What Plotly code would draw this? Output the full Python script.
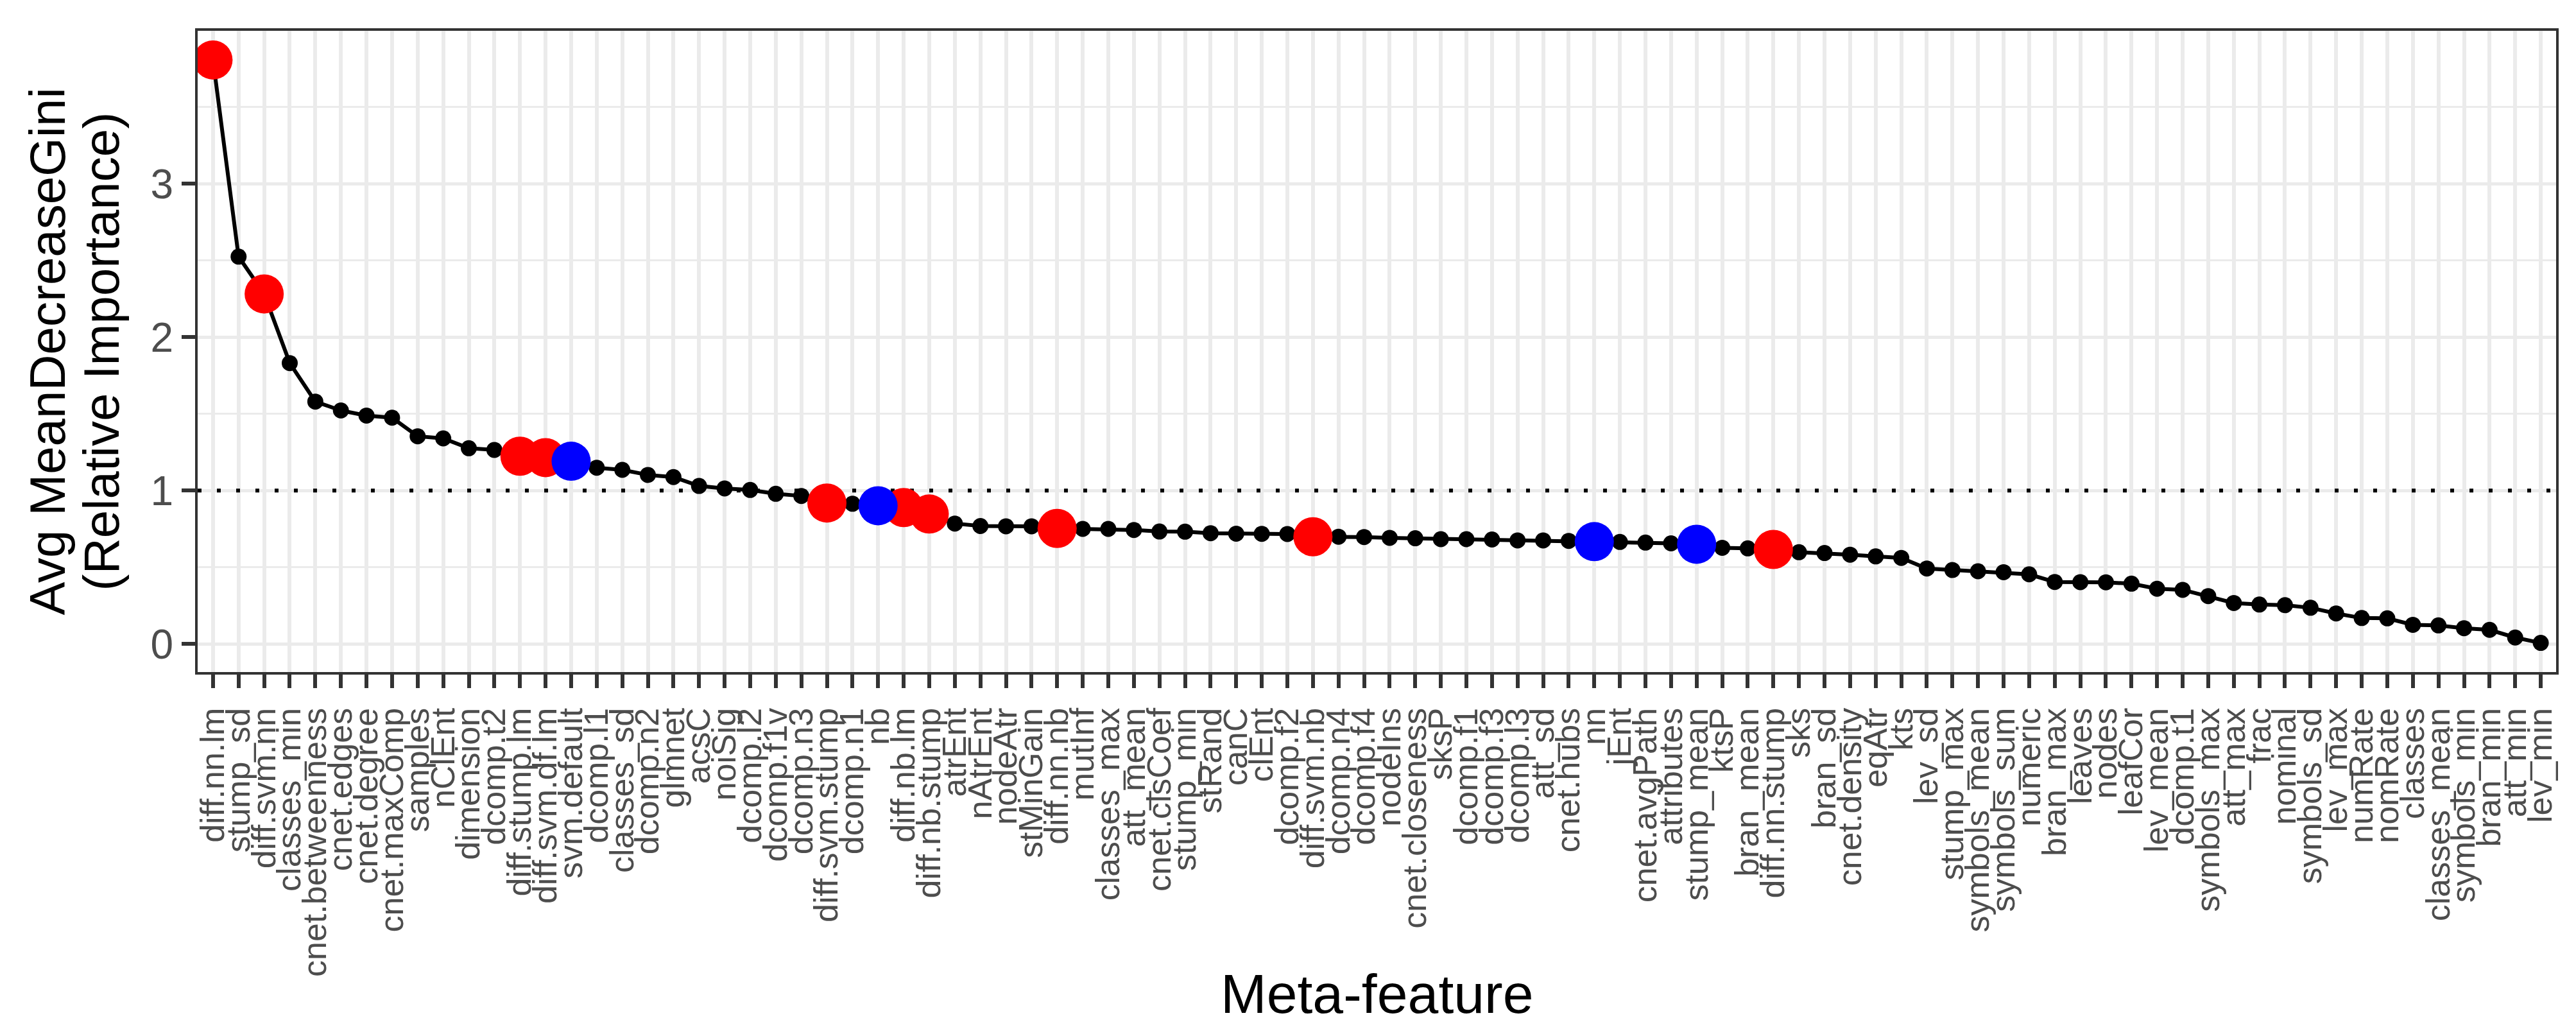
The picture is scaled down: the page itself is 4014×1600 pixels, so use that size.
import plotly.graph_objects as go

# ---------------- data ----------------
CATEGORIES = [
    "diff.nn.lm", "stump_sd", "diff.svm.nn", "classes_min", "cnet.betweenness",
    "cnet.edges", "cnet.degree", "cnet.maxComp", "samples", "nClEnt",
    "dimension", "dcomp.t2", "diff.stump.lm", "diff.svm.df.lm", "svm.default",
    "dcomp.l1", "classes_sd", "dcomp.n2", "glmnet", "acsC",
    "noiSig", "dcomp.l2", "dcomp.f1v", "dcomp.n3", "diff.svm.stump",
    "dcomp.n1", "nb", "diff.nb.lm", "diff.nb.stump", "atrEnt",
    "nAtrEnt", "nodeAtr", "stMinGain", "diff.nn.nb", "mutInf",
    "classes_max", "att_mean", "cnet.clsCoef", "stump_min", "stRand",
    "canC", "clEnt", "dcomp.f2", "diff.svm.nb", "dcomp.n4",
    "dcomp.f4", "nodeIns", "cnet.closeness", "sksP", "dcomp.f1",
    "dcomp.f3", "dcomp.l3", "att_sd", "cnet.hubs", "nn",
    "jEnt", "cnet.avgPath", "attributes", "stump_mean", "ktsP",
    "bran_mean", "diff.nn.stump", "sks", "bran_sd", "cnet.density",
    "eqAtr", "kts", "lev_sd", "stump_max", "symbols_mean",
    "symbols_sum", "numeric", "bran_max", "leaves", "nodes",
    "leafCor", "lev_mean", "dcomp.t1", "symbols_max", "att_max",
    "frac", "nominal", "symbols_sd", "lev_max", "numRate",
    "nomRate", "classes", "classes_mean", "symbols_min", "bran_min",
    "att_min", "lev_min",
]

VALUES = [
    3.807, 2.525, 2.282, 1.831, 1.580,
    1.522, 1.489, 1.475, 1.354, 1.340,
    1.276, 1.265, 1.224, 1.215, 1.191,
    1.149, 1.135, 1.102, 1.088, 1.030,
    1.014, 1.004, 0.979, 0.965, 0.919,
    0.914, 0.901, 0.889, 0.847, 0.785,
    0.769, 0.767, 0.767, 0.753, 0.750,
    0.750, 0.743, 0.733, 0.732, 0.722,
    0.719, 0.718, 0.717, 0.699, 0.699,
    0.697, 0.692, 0.689, 0.683, 0.683,
    0.681, 0.675, 0.675, 0.672, 0.667,
    0.665, 0.661, 0.656, 0.650, 0.627,
    0.623, 0.616, 0.598, 0.593, 0.582,
    0.571, 0.561, 0.492, 0.482, 0.474,
    0.468, 0.454, 0.404, 0.403, 0.402,
    0.393, 0.360, 0.353, 0.312, 0.267,
    0.257, 0.253, 0.236, 0.199, 0.169,
    0.167, 0.125, 0.121, 0.103, 0.092,
    0.042, 0.007,
]

RED_FEATURES = [
    "diff.nn.lm", "diff.svm.nn", "diff.stump.lm", "diff.svm.df.lm",
    "diff.svm.stump", "diff.nb.lm", "diff.nb.stump", "diff.nn.nb",
    "diff.svm.nb", "diff.nn.stump",
]
BLUE_FEATURES = ["svm.default", "nb", "nn", "stump_mean"]

THRESHOLD = 1.0
Y_TICKS = [0, 1, 2, 3]

X_TITLE = "Meta-feature"
Y_TITLE_1 = "Avg MeanDecreaseGini"
Y_TITLE_2 = "(Relative Importance)"

# ---------------- styling ----------------
W, H = 4014, 1600
ML, MR, MT, MB = 300, 39, 40, 561
PW = W - ML - MR
PH = H - MT - MB
FONT = "Liberation Sans, Arial, Helvetica, sans-serif"
GRID = "#EBEBEB"
BORDER = "#333333"
TICKTXT = "#4D4D4D"

n = len(CATEGORIES)
pos = list(range(n))
x_range = [-0.6, n - 1 + 0.6]
ymin, ymax = min(VALUES), max(VALUES)
pad = 0.05 * (ymax - ymin)

red_x = [p for p, c in zip(pos, CATEGORIES) if c in RED_FEATURES]
red_y = [v for c, v in zip(CATEGORIES, VALUES) if c in RED_FEATURES]
blue_x = [p for p, c in zip(pos, CATEGORIES) if c in BLUE_FEATURES]
blue_y = [v for c, v in zip(CATEGORIES, VALUES) if c in BLUE_FEATURES]

fig = go.Figure()
# reference line (spans the full panel width)
fig.add_trace(go.Scatter(
    x=x_range, y=[THRESHOLD, THRESHOLD], mode="lines",
    line=dict(color="black", width=6, dash="6px,24px"),
    showlegend=False, hoverinfo="skip",
))
fig.add_trace(go.Scatter(
    x=pos, y=VALUES, mode="lines+markers",
    line=dict(color="black", width=6),
    marker=dict(color="black", size=25, line=dict(width=0)),
    text=CATEGORIES, hoverinfo="text+y",
    showlegend=False,
))
fig.add_trace(go.Scatter(
    x=red_x, y=red_y, mode="markers",
    marker=dict(color="#FF0000", size=61, line=dict(width=0)),
    showlegend=False,
))
fig.add_trace(go.Scatter(
    x=blue_x, y=blue_y, mode="markers",
    marker=dict(color="#0000FF", size=61, line=dict(width=0)),
    showlegend=False,
))

fig.update_layout(
    width=W, height=H,
    margin=dict(l=ML, r=MR, t=MT, b=MB, autoexpand=False),
    paper_bgcolor="white", plot_bgcolor="white",
    font=dict(family=FONT, color="black"),
    xaxis=dict(
        range=x_range,
        tickmode="array", tickvals=pos, ticktext=CATEGORIES,
        showgrid=True, gridcolor=GRID, gridwidth=6,
        showline=True, mirror=True, linecolor=BORDER, linewidth=4,
        ticks="outside", ticklen=21, tickwidth=5.5, tickcolor=BORDER,
        tickangle=-90, tickfont=dict(size=52, color=TICKTXT, family=FONT),
        automargin=False, zeroline=False, ticklabelstandoff=10,
    ),
    yaxis=dict(
        range=[ymin - pad, ymax + pad],
        tickmode="array", tickvals=Y_TICKS, ticktext=[str(t) for t in Y_TICKS],
        showgrid=True, gridcolor=GRID, gridwidth=5.4,
        minor=dict(dtick=0.5, tick0=0, showgrid=True, gridcolor=GRID, gridwidth=2.7, ticks=""),
        showline=True, mirror=True, linecolor=BORDER, linewidth=4,
        ticks="outside", ticklen=21, tickwidth=5.5, tickcolor=BORDER,
        tickfont=dict(size=64, color=TICKTXT, family=FONT),
        automargin=False, zeroline=False,
    ),
    annotations=[
        dict(text=X_TITLE, xref="paper", yref="paper", x=0.5, y=(1039 - 1540) / PH,
             xanchor="center", yanchor="middle", showarrow=False,
             font=dict(size=86, color="black", family=FONT)),
        dict(text=Y_TITLE_1, xref="paper", yref="paper", x=(65 - ML) / PW, y=0.5,
             xanchor="center", yanchor="middle", textangle=-90, showarrow=False,
             font=dict(size=78, color="black", family=FONT)),
        dict(text=Y_TITLE_2, xref="paper", yref="paper", x=(149 - ML) / PW, y=0.5,
             xanchor="center", yanchor="middle", textangle=-90, showarrow=False,
             font=dict(size=78, color="black", family=FONT)),
    ],
)

fig.write_html("out.html")
